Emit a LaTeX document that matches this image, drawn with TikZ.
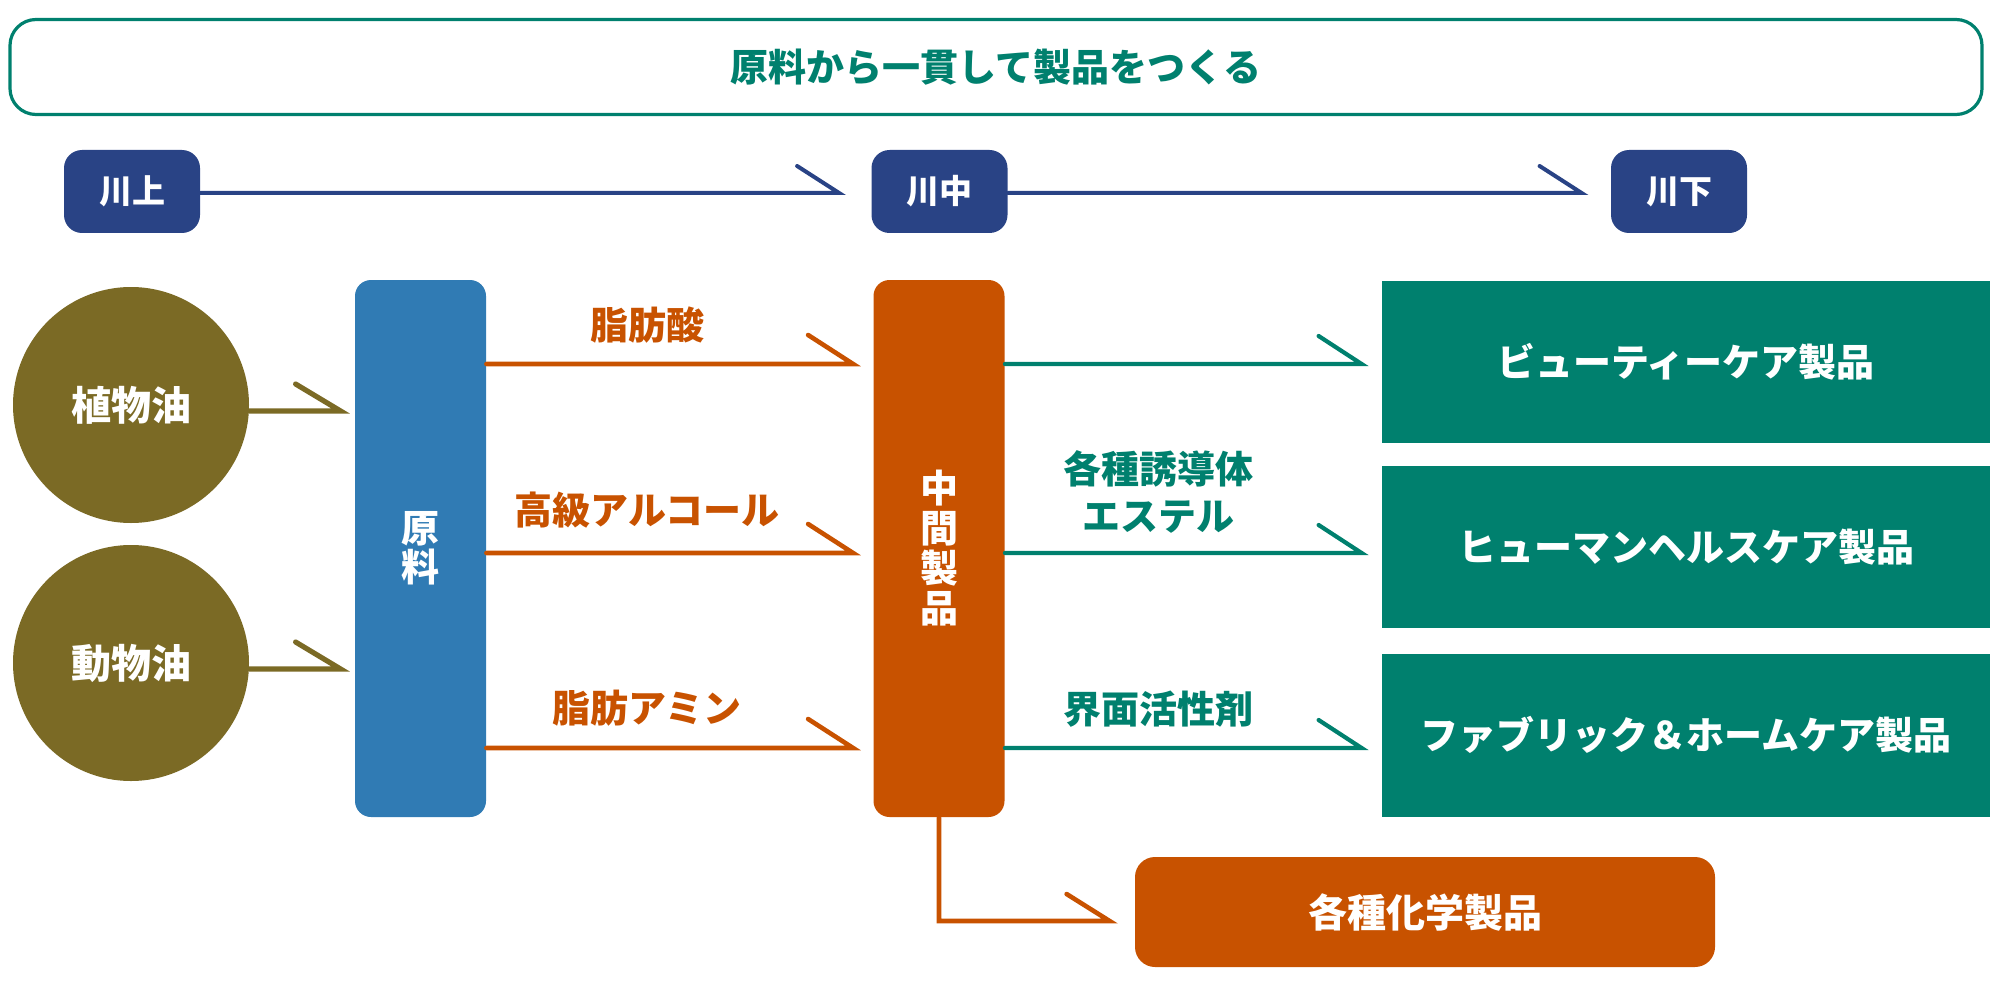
\documentclass[tikz,border=0pt]{standalone}
\usepackage{fontspec}
\setmainfont{Noto Sans CJK JP}
\definecolor{cteal}{RGB}{0,128,110}
\definecolor{cnavy}{RGB}{41,67,133}
\definecolor{colive}{RGB}{123,106,37}
\definecolor{cblue}{RGB}{48,123,180}
\definecolor{corange}{RGB}{200,82,0}
\begin{document}
\begin{tikzpicture}[x=0.5pt,y=-0.5pt,
  txt/.style={font=\bfseries\fontsize{19}{20}\selectfont},
  stagebox/.style={fill=cnavy,rounded corners=9pt,minimum width=68pt,minimum height=41.5pt,text=white,inner sep=0pt,font=\bfseries\fontsize{16.5}{18}\selectfont},
  oil/.style={circle,fill=colive,minimum size=118pt,inner sep=0pt,text=white,font=\bfseries\fontsize{20}{22}\selectfont},
  tallbox/.style={rounded corners=8pt,minimum width=65.5pt,minimum height=268.5pt,inner sep=0pt,text=white,align=center},
  prodbox/.style={fill=cteal,minimum width=304pt,minimum height=81pt,inner sep=0pt,text=white,txt},
  arr/.style={line width=2.3pt,line join=miter,line cap=round},
  lbl/.style={txt,align=center}
]
\useasboundingbox (0,0) rectangle (2000,1000);
% title
\node[draw=cteal,line width=1.6pt,rounded corners=13pt,minimum width=986pt,minimum height=47.5pt,inner sep=0pt,text=cteal,txt] (title) at (996,67) {原料から一貫して製品をつくる};
% stages
\node[stagebox] (up) at (132,191.5) {川上};
\node[stagebox] (midT) at (939.5,191.5) {川中};
\node[stagebox] (down) at (1679,191.5) {川下};
\draw[arr,cnavy,line width=2pt] ([yshift=-0.75pt]up.east) -- ([xshift=-16pt,yshift=-0.75pt]midT.west) -- ++(-42,-27);
\draw[arr,cnavy,line width=2pt] ([yshift=-0.75pt]midT.east) -- ([xshift=-14.5pt,yshift=-0.75pt]down.west) -- ++(-42,-27);
% oils
\node[oil] (veg) at (131,405) {植物油};
\node[oil] (ani) at (131,663) {動物油};
% raw and intermediate
\node[tallbox,fill=cblue,font=\bfseries\fontsize{19}{19.5}\selectfont] (raw) at (420.5,548.5) {原\\料};
\node[tallbox,fill=corange,font=\bfseries\fontsize{19}{20}\selectfont] (mid) at (939,548.5) {中\\間\\製\\品};
\draw[arr,colive,line width=2.6pt] ([yshift=-3pt]veg.east) -- ([xshift=-7pt]raw.west |- 0,411) -- ++(-45,-27);
\draw[arr,colive,line width=2.6pt] ([yshift=-3pt]ani.east) -- ([xshift=-7pt]raw.west |- 0,669) -- ++(-45,-27);
% levels
\coordinate (r1) at (0,364);
\coordinate (r2) at (0,553);
\coordinate (r3) at (0,748);
\draw[arr,corange] (raw.east |- r1) -- ([xshift=-10pt]mid.west |- r1) -- ++(-45,-29);
\draw[arr,corange] (raw.east |- r2) -- ([xshift=-10pt]mid.west |- r2) -- ++(-45,-29);
\draw[arr,corange] (raw.east |- r3) -- ([xshift=-10pt]mid.west |- r3) -- ++(-45,-29);
\node[lbl,text=corange] (l1) at (647,325) {脂肪酸};
\node[lbl,text=corange] (l2) at (647,510) {高級アルコール};
\node[lbl,text=corange] (l3) at (647,708) {脂肪アミン};
% products
\node[prodbox] (p1) at (1686,362) {ビューティーケア製品};
\node[prodbox] (p2) at (1686,547) {ヒューマンヘルスケア製品};
\node[prodbox,minimum height=81.5pt] (p3) at (1686,735) {ファブリック＆ホームケア製品};
\draw[arr,cteal,line width=2.1pt] (mid.east |- r1) -- ([xshift=-10pt]p1.west |- r1) -- ++(-43,-28);
\draw[arr,cteal,line width=2.1pt] (mid.east |- r2) -- ([xshift=-10pt]p2.west |- r2) -- ++(-43,-28);
\draw[arr,cteal,line width=2.1pt] (mid.east |- r3) -- ([xshift=-10pt]p3.west |- r3) -- ++(-43,-28);
\node[lbl,text=cteal,font=\bfseries\fontsize{19}{23.5}\selectfont] (l4) at (1158,492) {各種誘導体\\エステル};
\node[lbl,text=cteal] (l5) at (1158,709) {界面活性剤};
% chemicals
\node[fill=corange,rounded corners=10pt,minimum width=290pt,minimum height=55pt,inner sep=0pt,text=white,font=\bfseries\fontsize{19.5}{21}\selectfont] (chem) at (1425,912) {各種化学製品};
\draw[arr,corange] (mid.south) |- ([xshift=-12.5pt,yshift=-4.5pt]chem.west) -- ++(-43,-27);
\end{tikzpicture}
\end{document}
